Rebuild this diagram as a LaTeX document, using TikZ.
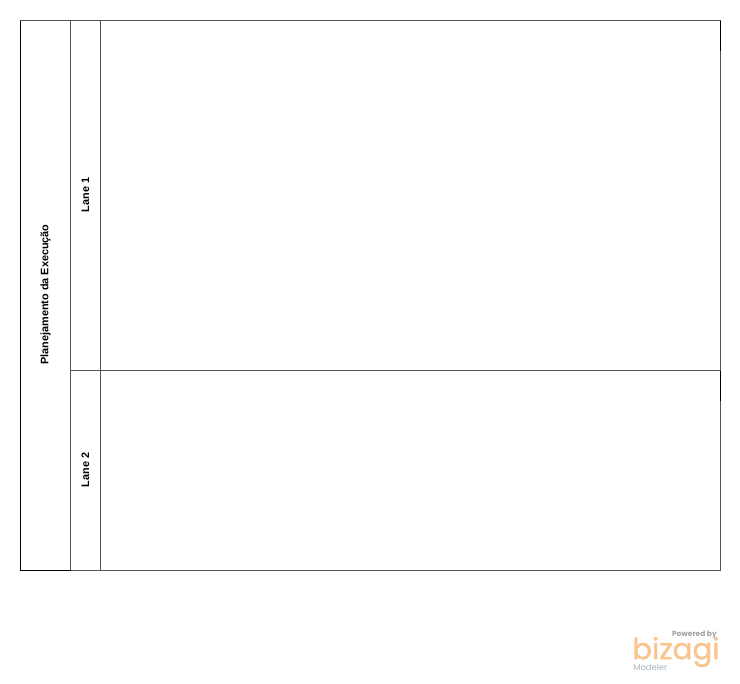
\documentclass[tikz,border=0pt]{standalone}
\usepackage{fontspec}
\setmainfont{Liberation Sans}
\newfontfamily\logofont{Poppins}
\newfontfamily\brandfont[FakeBold=1.2]{Poppins}
\definecolor{lineGray}{HTML}{555555}
\definecolor{logoOrange}{HTML}{F9C48D}
\definecolor{logoGray}{HTML}{A0A0A0}
\definecolor{logoBlue}{HTML}{A5B4BF}
\tikzset{
  px/.style={x=0.75pt,y=-0.75pt},
  band/.style={draw=lineGray,line width=0.75pt,fill=white,inner sep=0pt,outer sep=0pt,anchor=north west},
  edgeBlack/.style={draw=black,line width=0.75pt},
  title/.style={rotate=90,font=\bfseries\fontsize{8.15}{9}\selectfont,inner sep=0pt,text=black},
}
\begin{document}
\begin{tikzpicture}[px]
\useasboundingbox (0,0) rectangle (740,683);
% bands
\node[band,minimum width=37.5pt,minimum height=412.5pt] (pool) at (20.5,20.5) {};
\node[band,minimum width=22.5pt,minimum height=262.5pt] (laneA) at (70.5,20.5) {};
\node[band,minimum width=22.5pt,minimum height=150pt] (laneB) at (70.5,370.5) {};
\node[band,minimum width=465pt,minimum height=262.5pt] (bodyA) at (100.5,20.5) {};
\node[band,minimum width=465pt,minimum height=150pt] (bodyB) at (100.5,370.5) {};
% darker outer edges
\draw[edgeBlack] (pool.north west) -- (pool.south west) -- (pool.south east);
\draw[edgeBlack] (bodyA.north east) -- ++(0,30);
\draw[edgeBlack] (bodyB.north east) -- ++(0,30);
% labels
\node[title] (poolLabel) at (45.5,294.5) {Planejamento da Execução};
\node[title] (laneALabel) at (85.5,195) {Lane 1};
\node[title] (laneBLabel) at (85.5,470) {Lane 2};
% logo
\node[anchor=east,inner sep=0pt,text=logoGray,font=\logofont\bfseries\fontsize{5.6}{6}\selectfont] (powered) at (717,635) {Powered by};
\node[anchor=west,inner sep=0pt,text=logoOrange,font=\brandfont\fontsize{22}{24}\selectfont] (brand) at (632,652) {bizagi};
\node[anchor=west,inner sep=0pt,text=logoBlue,font=\logofont\fontsize{6.3}{7}\selectfont] (product) at (633,667) {Modeler};
\end{tikzpicture}
\end{document}
